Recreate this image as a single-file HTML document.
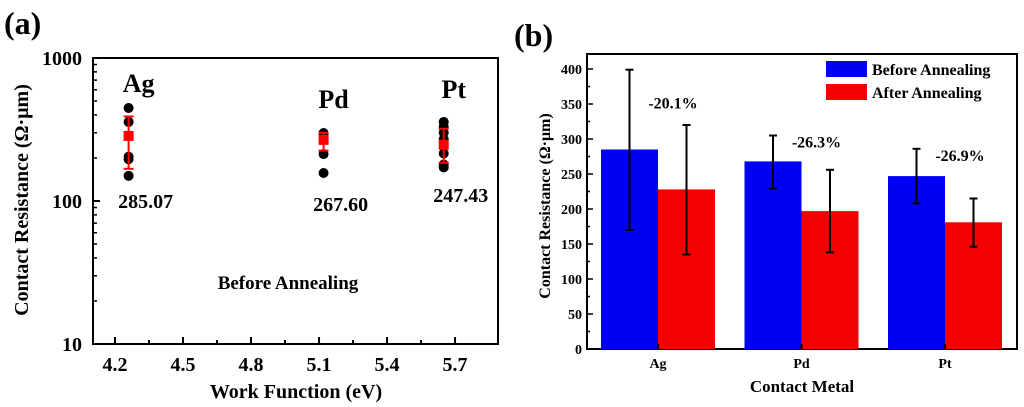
<!DOCTYPE html>
<html><head><meta charset="utf-8"><style>
html,body{margin:0;padding:0;background:#fff;}
svg{display:block;font-family:"Liberation Serif",serif;font-weight:bold;}
</style></head><body>
<svg id="s" width="1024" height="407" viewBox="0 0 1024 407" xmlns="http://www.w3.org/2000/svg">
<text x="4" y="34" font-size="32">(a)</text>
<text x="514" y="46" font-size="32">(b)</text>
<g id="ga"></g>
<g id="gb"></g>
</svg>
<script>
// Panel A data
const metalsA = ["Ag","Pd","Pt"];
const workFn = [4.26, 5.12, 5.65];
const agPoints = [447, 357, 204, 196, 150];
const pdPoints = [299, 285, 213, 157];
const ptPoints = [357, 330, 300, 270, 215, 180, 172];
const meansA = [285.07, 267.60, 247.43];
const errLoA = [168, 225, 185];
const errHiA = [390, 300, 320];
const xTicksA = [4.2, 4.5, 4.8, 5.1, 5.4, 5.7];
const yTicksA = [10, 100, 1000];
// Panel B data
const catsB = ["Ag","Pd","Pt"];
const beforeVals = [285, 268, 247];
const afterVals = [228, 197, 181];
const beforeLo = [170, 229, 208];
const beforeHi = [399, 305, 286];
const afterLo = [135, 138, 146];
const afterHi = [320, 256, 215];
const pctLabels = ["-20.1%", "-26.3%", "-26.9%"];
const yTicksB = [0, 50, 100, 150, 200, 250, 300, 350, 400];

const NS = "http://www.w3.org/2000/svg";
function mk(parent, tag, attrs, text){
  const e = document.createElementNS(NS, tag);
  for (const k in attrs) e.setAttribute(k, attrs[k]);
  if (text !== undefined) e.textContent = text;
  parent.appendChild(e);
  return e;
}
// ---- Panel A ----
const ga = document.getElementById("ga");
const aL=93, aR=498, aT=58, aB=344;
const xA = v => 115 + (v-4.2)*226.7;
const yA = v => aB - (Math.log10(v)-1)*143;
let r = mk(ga,"rect",{x:aL,y:aT,width:aR-aL,height:aB-aT,fill:"none",stroke:"#000","stroke-width":2});


for (let d=1; d<=2; d++){
  for (let m=2;m<=9;m++){
    const v = Math.pow(10,d)*m;
    let t = mk(ga,"line",{x1:aL,x2:aL+4,y1:yA(v),y2:yA(v),stroke:"#000","stroke-width":1.5});
    
    
  }
}
yTicksA.forEach(v=>{
  let t = mk(ga,"line",{x1:aL,x2:aL+7,y1:yA(v),y2:yA(v),stroke:"#000","stroke-width":2});
  
  
  let l = mk(ga,"text",{x:aL-11,y:yA(v)+7,"font-size":20,"text-anchor":"end"},String(v));
  
  
});
for (let v=4.2; v<=5.85; v+=0.15){
  const major = Math.abs(((v-4.2)/0.3)-Math.round((v-4.2)/0.3))<0.01;
  let t = mk(ga,"line",{x1:xA(v),x2:xA(v),y1:aB,y2:aB-(major?7:4),stroke:"#000","stroke-width":2});
  
  
}
xTicksA.forEach(v=>{
  let l = mk(ga,"text",{x:xA(v),y:371,"font-size":20,"text-anchor":"middle"},v.toFixed(1));
  
  
});
let xt = mk(ga,"text",{x:296,y:398,"font-size":20,"text-anchor":"middle"},"Work Function (eV)");


let yt = mk(ga,"text",{x:0,y:0,"font-size":20,"text-anchor":"middle",transform:"translate(28,200) rotate(-90)"},"Contact Resistance (Ω·μm)");


const ptsAll = [agPoints, pdPoints, ptPoints];
const nameY = [92, 108, 98];
const valY = [208, 211, 202];
metalsA.forEach((m,i)=>{
  const x = xA(workFn[i]);
  ptsAll[i].forEach(v=>{
    let c = mk(ga,"circle",{cx:x,cy:yA(v),r:5,fill:"#000"});
    
    
  });
  let e = mk(ga,"line",{x1:x,x2:x,y1:yA(errHiA[i]),y2:yA(errLoA[i]),stroke:"#f00","stroke-width":2});
  
  
  [errHiA[i],errLoA[i]].forEach(v=>{
    let c = mk(ga,"line",{x1:x-5,x2:x+5,y1:yA(v),y2:yA(v),stroke:"#f00","stroke-width":2});
    
    
  });
  let sq = mk(ga,"rect",{x:x-5,y:yA(meansA[i])-5,width:10,height:10,fill:"#f00"});
  
  
  let nl = mk(ga,"text",{x:x+10,y:nameY[i],"font-size":26,"text-anchor":"middle"},m);
  
  
  let vl = mk(ga,"text",{x:x+17,y:valY[i],"font-size":20,"text-anchor":"middle"},meansA[i].toFixed(2));
  
  
});
let ba = mk(ga,"text",{x:288,y:289,"font-size":19,"text-anchor":"middle"},"Before Annealing");



// ---- Panel B ----
const gb = document.getElementById("gb");
const bL=587, bR=1017, bT=54, bB=349;
const yB = v => bB - v*0.7;
const xB = i => 658 + i*143.5;
const bw = 57;
let rb = mk(gb,"rect",{x:bL,y:bT,width:bR-bL,height:bB-bT,fill:"none",stroke:"#000","stroke-width":2});


for (let v=25; v<400; v+=50){
  let t = mk(gb,"line",{x1:bL,x2:bL+3,y1:yB(v),y2:yB(v),stroke:"#000","stroke-width":1.5});
  
  
}
yTicksB.forEach(v=>{
  let t = mk(gb,"line",{x1:bL,x2:bL+6,y1:yB(v),y2:yB(v),stroke:"#000","stroke-width":1.5});
  
  
  let l = mk(gb,"text",{x:bL-5,y:yB(v)+5,"font-size":14,"text-anchor":"end"},String(v));
  
  
});
catsB.forEach((c,i)=>{
  const x = xB(i);
  let b1 = mk(gb,"rect",{x:x-bw,y:yB(beforeVals[i]),width:bw,height:bB-yB(beforeVals[i]),fill:"#0000f5"});
  
  
  let b2 = mk(gb,"rect",{x:x,y:yB(afterVals[i]),width:bw,height:bB-yB(afterVals[i]),fill:"#f50000"});
  
  
  [[x-bw/2,beforeLo[i],beforeHi[i],'before'],[x+bw/2,afterLo[i],afterHi[i],'after']].forEach(q=>{
    let e = mk(gb,"line",{x1:q[0],x2:q[0],y1:yB(q[2]),y2:yB(q[1]),stroke:"#000","stroke-width":2});
    
    
    [q[1],q[2]].forEach(v=>{
      let cp = mk(gb,"line",{x1:q[0]-4,x2:q[0]+4,y1:yB(v),y2:yB(v),stroke:"#000","stroke-width":2});
      
      
    });
  });
  let t = mk(gb,"line",{x1:x,x2:x,y1:bB,y2:bB-5,stroke:"#000","stroke-width":2});
  
  
  let l = mk(gb,"text",{x:x,y:368,"font-size":14,"text-anchor":"middle"},c);
  
  
  let p = mk(gb,"text",{x:x+15,y:yB(beforeHi[i])+(i===0?39:12),"font-size":16,"text-anchor":"middle"},pctLabels[i]);
  
  
});
let xtb = mk(gb,"text",{x:802,y:392,"font-size":17,"text-anchor":"middle"},"Contact Metal");


let ytb = mk(gb,"text",{x:0,y:0,"font-size":16,"text-anchor":"middle",transform:"translate(550,206) rotate(-90)"},"Contact Resistance (Ω·μm)");


let lg1 = mk(gb,"rect",{x:826,y:61,width:41,height:16,fill:"#0000f5"});


let lt1 = mk(gb,"text",{x:872,y:75,"font-size":16},"Before Annealing");


let lg2 = mk(gb,"rect",{x:826,y:84,width:41,height:16,fill:"#f50000"});


let lt2 = mk(gb,"text",{x:872,y:98,"font-size":16},"After Annealing");


</script>
</body></html>
